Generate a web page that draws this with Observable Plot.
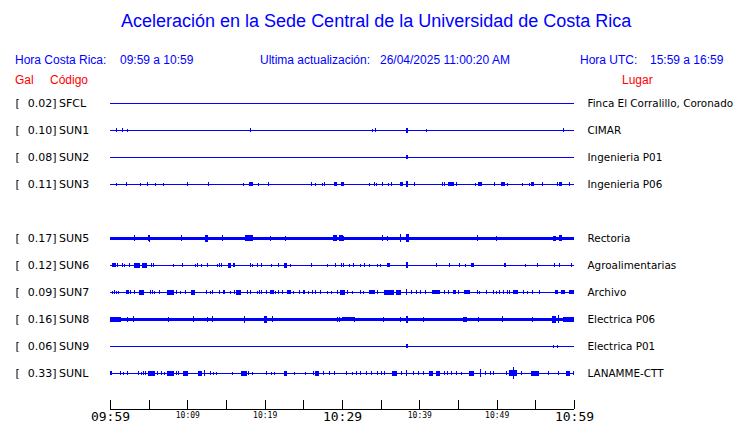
<!DOCTYPE html>
<html>
<head>
<meta charset="utf-8">
<script src="https://cdn.jsdelivr.net/npm/d3@7"></script>
<script src="https://cdn.jsdelivr.net/npm/@observablehq/plot@0.6"></script>
<style>
  html, body { margin: 0; padding: 0; background: #fff; }
  #page { position: relative; width: 740px; height: 423px; overflow: hidden; }
  #header { position: relative; width: 740px; height: 90px; font-family: "Liberation Sans", Arial, sans-serif; }
  #header div { position: absolute; line-height: 1; white-space: pre; }
  .blue { color: #0000ff; }
  .red { color: #ff0000; }
  .t { font-size: 18px; }
  .i { font-size: 12px; }
  #chart svg { display: block; overflow: visible; }
</style>
</head>
<body>
<div id="page">
  <div id="header">
    <div class="blue t" style="left:121px; top:12px;">Aceleración en la Sede Central de la Universidad de Costa Rica</div>
    <div class="blue i" style="left:15px; top:54px;">Hora Costa Rica:</div>
    <div class="blue i" style="left:120px; top:54px;">09:59 a 10:59</div>
    <div class="blue i" style="left:260px; top:54px;">Ultima actualización:</div>
    <div class="blue i" style="left:380px; top:54px;">26/04/2025 11:00:20 AM</div>
    <div class="blue i" style="left:580px; top:54px;">Hora UTC:</div>
    <div class="blue i" style="left:650px; top:54px;">15:59 a 16:59</div>
    <div class="red i" style="left:15px; top:74px;">Gal</div>
    <div class="red i" style="left:50px; top:74px;">Código</div>
    <div class="red i" style="left:622px; top:74px;">Lugar</div>
  </div>
  <div id="chart"></div>
</div>
<script>
// ---------------- data ----------------
// row slots (SUN4 has no data -> blank row)
const rowSlots = ["SFCL","SUN1","SUN2","SUN3","SUN4","SUN5","SUN6","SUN7","SUN8","SUN9","SUNL"];
const codes    = ["SFCL","SUN1","SUN2","SUN3","SUN5","SUN6","SUN7","SUN8","SUN9","SUNL"];
const peakGal  = [0.02, 0.10, 0.08, 0.11, 0.17, 0.12, 0.09, 0.16, 0.06, 0.33];
const places   = ["Finca El Corralillo, Coronado","CIMAR","Ingenieria P01","Ingenieria P06","Rectoria",
                  "Agroalimentarias","Archivo","Electrica P06","Electrica P01","LANAMME-CTT"];
// background noise amplitude (continuous band)
const noiseAmp = [0, 0, 0, 0, 1.5, 0, 0, 1.5, 0, 0];

// events: [minutes after 09:59, duration (min), amplitude]
const sfclEvents = [];
const sun1Events = [[0.87,0,2],[1.59,0,2],[2.24,0,1.5],[18.14,0,2],[33.92,0,1.5],[34.31,0,2],[38.3,0.2,2.5],[40.9,0,1.5],[58.67,0,2]];
const sun2Events = [[38.3,0.2,2]];
const sun3Events = [[0.87,0,1.5],[2.11,0,2],[3.92,0,1.5],[4.88,0,2],[5.86,0,1.5],[6.94,0,1.5],[10.0,0,2],[12.71,0,2],
  [17.24,0,1.5],[18.1,0.3,2],[19.18,0,1.5],[20.56,0,2],[26.08,0,2],[26.55,0,1.5],[27.45,0,1.5],[27.71,0,2],[29.0,0.3,2],
  [29.9,0.3,2],[33.53,0,1.5],[34.23,0,2],[34.4,0,1.5],[35.21,0,2],[35.95,0,1.5],[36.38,0,2],[37.5,0.3,2],[38.3,0.2,3],
  [39.35,0,2],[42.97,0,2],[43.23,0,2],[43.75,0.3,2],[44.17,0.3,2],[44.87,0,2],[47.24,0,1.5],[47.6,0.4,2],[49.66,0,2],
  [50.65,0.3,2],[51.38,0,1.5],[53.28,0,1.5],[54.27,0,1.5],[54.5,0.3,2],[55.99,0,2],[57.89,0,2],[58.1,0.3,2],[59.39,0,2]];
const sun5Events = [[3.14,0,3],[4.95,0,3],[5.17,0,3.5],[9.27,0,3],[12.35,0.3,3.5],[14.52,0,3],[17.55,0.3,3],[18.1,0.3,3],
  [20.73,0,2.5],[22.67,0,2.5],[28.95,0.35,3],[29.7,0.3,3],[30.22,0,2.5],[35.21,0,3],[35.91,0,2.5],[37.54,0,4],
  [38.3,0.3,4],[47.5,0,3],[49.95,0,2.5],[57.3,0.3,2.5],[58.1,0.3,3]];
const sun6Events = [[0.3,0.3,2],[0.65,0,2],[0.94,0,2],[1.59,0,2],[1.85,0,1.5],[2.5,0,2],[3.2,0.3,2.5],[3.55,0.3,2.5],
  [4.25,0.5,2.5],[5.39,0,2],[5.65,0,2],[8.19,0,1.5],[9.35,0,2],[11.08,0,1.5],[11.34,0,2],[11.86,0,1.5],[12.67,0,2],
  [13.93,0,1.5],[14.22,0,2],[14.48,0,2],[15.3,0.3,2.5],[16.0,0,2],[16.16,0,2],[18.19,0,2],[18.4,0,1.5],[19.01,0,2],
  [19.62,0,2],[20.91,0,1.5],[21.85,0,2],[22.55,0.3,2.5],[23.31,0,1.5],[26.08,0,2],[28.1,0,1.5],[29.1,0,2],[29.96,0,2],
  [30.22,0,2],[30.94,0,1.5],[31.46,0,2],[32.33,0,1.5],[32.88,0,2],[33.53,0,1.5],[34.56,0,1.5],[34.95,0,1.5],
  [35.85,0.2,2],[36.17,0,2],[38.3,0.2,3],[42.19,0,2],[43.88,0,2],[45.22,0,2],[45.94,0,1.5],[46.75,0.2,2],
  [51.0,0.2,2],[53.7,0,1.5],[55.25,0,2],[57.45,0,2],[58.1,0,2],[59.7,0,2]];
const sun7Events = [[0.3,0,1.5],[0.56,0,2],[0.87,0,1.5],[1.07,0,1.5],[2.07,0.3,2],[2.62,0,2],[3.23,0,2],[3.79,0.5,2.5],
  [5.26,0,2],[5.52,0,2],[5.73,0,1.5],[6.38,0,2],[7.46,0.7,2.5],[8.62,0,2],[9.18,0,1.5],[9.74,0,2],[10.56,0.4,2.5],
  [12.5,0,2],[13.06,0,1.5],[13.28,0,2],[14.1,0,2],[14.65,0.2,2],[15.56,0,1.5],[16.07,0,2],[16.42,0.4,2.5],[17.75,0,2],
  [18.19,0,2],[19.01,0,1.5],[19.31,0,2],[19.62,0,2],[20.26,0,2],[20.78,0.3,2],[21.38,0,1.5],[21.76,0,2],[22.28,0,2],
  [22.98,0.4,2],[23.75,0,1.5],[24.53,0,2],[24.96,0.2,2],[25.64,0,1.5],[26.16,0,2],[26.51,0,2],[27.16,0,2],[28.15,0,1.5],
  [28.67,0,1.5],[29.44,0,2],[29.78,0.5,2.5],[30.69,0,2],[31.33,0,1.5],[32.33,0,2],[32.75,0,1.5],[33.62,0.55,2],
  [34.56,0,2],[35.47,1.15,2.5],[37.07,0.55,2.5],[38.28,0,3],[39.01,0,2],[39.57,0,2],[40.09,0,2],[40.86,0,2],
  [41.73,0.85,2],[43.23,0,2],[43.8,0,2],[44.39,0.35,2],[45.09,0,2],[45.81,0.7,2],[47.46,0,2],[47.84,0,1.5],[48.71,0,2],
  [49.56,0,2],[50.0,0,1.5],[50.43,0,2],[50.86,0,2],[51.38,0,2],[51.72,0,2],[52.24,0.45,2],[53.44,0,2],[54.01,0,1.5],
  [54.66,0,2],[55.51,0,2],[57.58,0.3,2],[58.32,0.45,2],[59.48,0.45,2]];
const sun8Events = [[0,1.3,2.5],[2.24,0,2.5],[3.01,0,3],[7.54,0,2.5],[10.77,0,3],[12.58,0,2.5],[13.23,0,3],[17.37,0,3.5],
  [19.95,0.3,3.5],[20.99,0,3],[29.39,0,2.5],[29.74,0,2.5],[30.0,1.5,2.2],[31.59,0,2.5],[35.34,0,2.5],[37.54,0,2.5],
  [38.3,0.2,3.5],[40.51,0,2.5],[45.75,0.4,2.5],[47.68,0,2.5],[50.73,0,3],[54.66,0,2.5],[57.25,0.4,3.5],[57.97,0,4],
  [58.62,1.3,2.5]];
const sun9Events = [[38.3,0.2,2],[57.32,0,1.5],[57.84,0,1.5]];
const sunlEvents = [[0.0,0.2,2],[1.38,0,2],[1.81,0,1.5],[2.24,0,2],[3.66,0,2],[4.01,0,1.5],[4.31,0,2],[4.53,0,2],
  [5.0,0.75,2.5],[6.12,0,2],[6.6,0,2],[7.02,0,1.5],[7.4,0.8,2.5],[8.62,0,2],[8.92,0,2],[9.55,0.5,2.5],[11.45,0.35,2.5],
  [12.28,0,3],[12.97,0,2],[13.36,0,1.5],[13.71,0,1.5],[15.81,0,1.5],[17.0,0.65,2.5],[17.97,0,2],[18.4,0,1.5],
  [20.26,0,2],[20.91,0,1.5],[21.21,0,1.5],[22.5,0.3,2.5],[23.83,0,1.5],[25.25,0,1.5],[26.29,0,2],[26.55,0.45,2.5],
  [27.58,0,2],[28.36,0,2],[29.0,0,2],[30.61,0,2],[31.38,0,1.5],[31.9,0,2],[32.42,0,2],[33.19,0,2],[33.84,0,2],
  [34.62,0,2],[35.13,0,2],[35.47,0,2],[36.55,0.55,2.5],[37.63,0,2],[38.37,0,3],[39.22,0,2],[39.87,0,2],[40.51,0,2],
  [41.3,0.4,2.5],[42.25,0.35,2.5],[43.23,0,2],[43.67,0,2],[44.22,0,2],[44.83,0,2],[45.39,0,1.5],[46.5,0.55,2.5],
  [47.97,0,4],[48.53,0,2],[49.14,0,2],[49.56,0,2],[51.3,0,2],[51.7,0.85,3],[52.15,0,6],[53.24,0,2],[54.5,0.85,2.5],
  [56.68,0,2],[57.97,0,2],[59.0,0.4,2.5],[59.91,0,2]];
const stationEvents = [sfclEvents, sun1Events, sun2Events, sun3Events, sun5Events, sun6Events, sun7Events, sun8Events, sun9Events, sunlEvents];

// time axis
const tickMinutes = [0,5,10,15,20,25,30,35,40,45,50,55,60];
const labelMinutes = [0,10,20,30,40,50,60];
const tickLabels = ["09:59","10:09","10:19","10:29","10:39","10:49","10:59"];
const majorLabels = ["09:59","10:29","10:59"];

// ---------------- build ----------------
const BLUE = "#0000ff";
const PX_PER_ROW = 27;
const AXIS_ROW = 11 + 9 / PX_PER_ROW; // axis sits 36px below the last slot
const TICK_LEN = 8.6 / PX_PER_ROW;

const stations = codes.map((c, i) => ({
  code: c, row: rowSlots.indexOf(c), gal: peakGal[i], place: places[i], noise: noiseAmp[i]
}));
const events = stations.flatMap((s, i) => stationEvents[i].map(([t, dur, amp]) => ({row: s.row, t, dur, amp})));
const labels = labelMinutes.map((m, i) => ({m, text: tickLabels[i], major: majorLabels.includes(tickLabels[i])}));

const chart = Plot.plot({
  width: 740,
  height: 333,
  marginLeft: 110,
  marginRight: 166,
  marginTop: 0,
  marginBottom: 0,
  x: {domain: [0, 60], axis: null},
  y: {domain: [0, AXIS_ROW], range: [13, 319], axis: null},
  style: {background: "white", shapeRendering: "crispEdges", overflow: "visible"},
  marks: [
    // baselines
    Plot.ruleY(stations, {y: "row", x1: 0, x2: 60, stroke: BLUE, strokeWidth: 1}),
    // continuous noise band
    Plot.rect(stations.filter(s => s.noise > 0), {
      x1: 0, x2: 60,
      y1: s => s.row - s.noise / PX_PER_ROW, y2: s => s.row + s.noise / PX_PER_ROW,
      fill: BLUE
    }),
    // bursts / spikes
    Plot.rect(events, {
      x1: d => d.t, x2: d => d.t + d.dur,
      y1: d => d.row - d.amp / PX_PER_ROW, y2: d => d.row + d.amp / PX_PER_ROW,
      fill: BLUE, insetLeft: -0.5, insetRight: -0.5
    }),
    // left labels
    Plot.text(stations, {y: "row", frameAnchor: "left", text: () => "[", dx: -95, textAnchor: "start",
      fontFamily: "DejaVu Sans", fontSize: 11, fill: "black"}),
    Plot.text(stations, {y: "row", frameAnchor: "left", text: s => s.gal.toFixed(2) + "]", dx: -54, textAnchor: "end",
      fontFamily: "DejaVu Sans", fontSize: 11, fill: "black"}),
    Plot.text(stations, {y: "row", frameAnchor: "left", text: "code", dx: -51.5, textAnchor: "start",
      fontFamily: "DejaVu Sans", fontSize: 11, fill: "black"}),
    // right labels
    Plot.text(stations, {y: "row", frameAnchor: "right", text: "place", dx: 13, textAnchor: "start",
      fontFamily: "DejaVu Sans", fontSize: 10.4, fill: "black"}),
    // time axis
    Plot.ruleY([AXIS_ROW], {x1: 0, x2: 60, stroke: "black"}),
    Plot.ruleX(tickMinutes, {x: d => d, y1: AXIS_ROW - TICK_LEN, y2: AXIS_ROW, stroke: "black"}),
    Plot.text(labels.filter(d => d.major), {x: "m", y: AXIS_ROW, text: "text", lineAnchor: "top", dy: 2,
      fontFamily: "DejaVu Sans Mono", fontSize: 13, fill: "black"}),
    Plot.text(labels.filter(d => !d.major), {x: "m", y: AXIS_ROW, text: "text", lineAnchor: "top", dy: 3,
      fontFamily: "DejaVu Sans Mono", fontSize: 8, fill: "black"})
  ]
});
document.getElementById("chart").appendChild(chart);
</script>
</body>
</html>
